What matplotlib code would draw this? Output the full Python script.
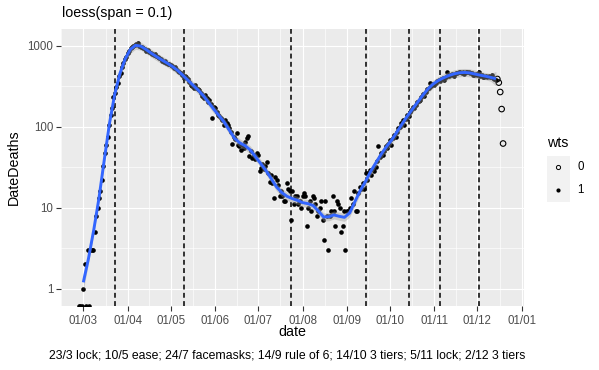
import numpy as np
import pandas as pd
import matplotlib
matplotlib.use("Agg")
import matplotlib.pyplot as plt
import matplotlib.dates as mdates
from matplotlib.ticker import FixedLocator, FuncFormatter, NullFormatter
from matplotlib.patches import Rectangle
from matplotlib.lines import Line2D

plt.rcParams['font.family'] = ['Liberation Sans', 'DejaVu Sans']

# ---------------- data (daily deaths by date of death, 2020) ----------------
feb_start, feb = "2020-02-27", [0, 0, 0]
mar_start, mar = "2020-03-01", [1, 2, 0, 3, 0, 3, 3, 3, 5, 8,
                                10, 13, 16, 22, 33, 47, 59, 75, 105, 140,
                                169, 235, 260, 310, 343, 420, 457, 540, 606, 680,
                                730]
apr_start, apr = "2020-04-01", [806, 850, 930, 950, 980, 1010, 1040, 1070, 1000, 970,
                                960, 930, 900, 870, 880, 830, 806, 790, 760, 780,
                                740, 720, 697, 680, 650, 630, 640, 620, 600, 590]
may_start, may = "2020-05-01", [577, 560, 530, 540, 520, 490, 470, 457, 430, 400,
                                420, 410, 390, 360, 328, 320, 300, 330, 300, 290,
                                280, 260, 240, 225, 245, 225, 203, 215, 190, 127,
                                175]
jun_start, jun = "2020-06-01", [169, 150, 140, 135, 128, 121, 105, 121, 110, 104,
                                95, 87, 62, 75, 70, 83, 59, 57, 52, 59,
                                55, 65, 72, 77, 43, 50, 41, 45, 40, 47]
jul_start, jul = "2020-07-01", [45, 28, 31, 35, 30, 33, 37, 27, 21, 25,
                                20, 13, 24, 22, 19, 14, 16, 14, 12, 12,
                                20, 17, 16, 7, 16, 11, 14, 14, 11, 12,
                                10]
aug_start, aug = "2020-08-01", [14, 15, 14, 6, 10, 12, 9, 14, 13, 11,
                                8, 9, 10, 12, 7, 4, 12, 8, 3, 8,
                                9, 14, 9, 6, 12, 11, 10, 5, 6, 9,
                                3]
sep_start, sep = "2020-09-01", [9, 9, 10, 13, 11, 16, 9, 9, 15, 18,
                                17, 20, 17, 27, 22, 27, 29, 25, 30, 28,
                                32, 38, 57, 42, 48, 45, 50, 58, 55, 62]
oct_start, octo = "2020-10-01", [68, 60, 72, 80, 75, 85, 95, 100, 110, 121,
                                 105, 125, 140, 135, 150, 160, 177, 170, 185, 200,
                                 210, 214, 230, 250, 240, 270, 290, 300, 343, 320,
                                 340]
nov_start, nov = "2020-11-01", [330, 350, 370, 380, 365, 390, 400, 380, 410, 478,
                                420, 430, 445, 440, 420, 455, 460, 470, 478, 465,
                                470, 450, 475, 480, 470, 460, 455, 440, 430, 450]
dec_start, dec = "2020-12-01", [435, 478, 420, 430, 410, 405, 420, 410, 425, 415,
                                430, 400, 390, 377]
# provisional (weight 0) values
prov_start, prov = "2020-12-15", [388, 350, 268, 165, 62]

events = ["2020-03-23", "2020-05-10", "2020-07-24", "2020-09-14",
          "2020-10-14", "2020-11-05", "2020-12-02"]
caption = ("23/3 lock; 10/5 ease; 24/7 facemasks; 14/9 rule of 6; "
           "14/10 3 tiers; 5/11 lock; 2/12 3 tiers")
title = "loess(span = 0.1)"

# ---------------- assemble ----------------
blocks = [(feb_start, feb), (mar_start, mar), (apr_start, apr), (may_start, may),
          (jun_start, jun), (jul_start, jul), (aug_start, aug), (sep_start, sep),
          (oct_start, octo), (nov_start, nov), (dec_start, dec)]
dates, vals = [], []
for s, v in blocks:
    dates += list(pd.date_range(s, periods=len(v)))
    vals += v
dates1 = mdates.date2num(pd.DatetimeIndex(dates).to_pydatetime())
vals1 = np.array(vals, dtype=float)
dates0 = mdates.date2num(pd.date_range(prov_start, periods=len(prov)).to_pydatetime())
vals0 = np.array(prov, dtype=float)

# ---------------- loess (degree 2, tricube) on log10 scale ----------------
pos = vals1 > 0
xf = dates1[pos]
yf = np.log10(vals1[pos])
wf = np.ones_like(xf)


def loess_matrix(x, w, xe, span=0.1, degree=2):
    n = len(x)
    q = int(np.floor(n * span))
    rows = []
    for x0 in xe:
        d = np.abs(x - x0)
        h = max(np.partition(d, q - 1)[q - 1], 1e-9)
        u = d / h
        k = np.where(u < 1, (1 - u ** 3) ** 3, 0.0) * w
        X = np.vander(x - x0, degree + 1, increasing=True)
        XtW = X.T * k
        rows.append(np.linalg.solve(XtW @ X, XtW)[0])
    return np.array(rows)


Ld = loess_matrix(xf, wf, xf)
res = yf - Ld @ yf
sigma2 = np.sum(wf * res ** 2) / (len(xf) - np.trace(Ld))
xe = np.linspace(xf.min(), xf.max(), 80)
Le = loess_matrix(xf, wf, xe)
fit = Le @ yf
se = np.sqrt(sigma2 * np.sum(Le ** 2, axis=1))
tq = 1.97

# ---------------- figure ----------------
W, H = 599, 370
fig = plt.figure(figsize=(W / 100, H / 100), dpi=100)
px = lambda x, y: (x / W, 1 - y / H)
L, R, T, B = 61, 524, 29, 305.7
ax = fig.add_axes([L / W, 1 - B / H, (R - L) / W, (B - T) / H])
ax.set_facecolor('#EBEBEB')
for s in ax.spines.values():
    s.set_visible(False)

ax.set_yscale('log')
ymin, ymax = 10 ** (-0.2099), 10 ** 3.206
ax.set_ylim(ymin, ymax)
mar1 = mdates.date2num(pd.Timestamp("2020-03-01").to_pydatetime())
ax.set_xlim(mar1 - 15.57, mar1 + 307.6)

# grid / ticks
majx = mdates.date2num(pd.date_range("2020-03-01", "2021-01-01", freq="MS").to_pydatetime())
ext = np.concatenate([[majx[0] - (majx[1] - majx[0])], majx, [majx[-1] + (majx[-1] - majx[-2])]])
minx = (ext[:-1] + ext[1:]) / 2
ax.xaxis.set_major_locator(FixedLocator(majx))
ax.xaxis.set_minor_locator(FixedLocator(minx))
ax.xaxis.set_major_formatter(mdates.DateFormatter('%d/%m'))
ax.yaxis.set_major_locator(FixedLocator([1, 10, 100, 1000]))
ax.yaxis.set_minor_locator(FixedLocator([10 ** -0.5, 10 ** 0.5, 10 ** 1.5, 10 ** 2.5, 10 ** 3.5]))
ax.yaxis.set_major_formatter(FuncFormatter(lambda v, p: f"{v:g}"))
ax.yaxis.set_minor_formatter(NullFormatter())
ax.set_axisbelow(True)
ax.grid(which='major', color='white', lw=0.85)
ax.grid(which='minor', color='white', lw=0.45)
ax.tick_params(which='major', length=3.3, width=0.8, color='#333333',
               labelcolor='#4D4D4D', labelsize=8.3, pad=2.2)
ax.tick_params(axis='x', which='major', pad=3.2)
ax.tick_params(which='minor', length=0)

# event lines
for e in events:
    ax.axvline(mdates.date2num(pd.Timestamp(e).to_pydatetime()), color='black',
               lw=1.1, linestyle=(0, (3.2, 2.2)), zorder=1.5)

# points
yplot = np.where(vals1 > 0, vals1, ymin)
ax.scatter(dates1, yplot, s=11, color='black', lw=0, zorder=2)
ax.scatter(dates0, vals0, s=16, facecolors='none', edgecolors='black', lw=0.8, zorder=2)

# smooth
ax.fill_between(xe, 10 ** (fit - tq * se), 10 ** (fit + tq * se), color='#999999',
                alpha=0.4, lw=0, zorder=2.5)
ax.plot(xe, 10 ** fit, color='#3366FF', lw=2.1, zorder=3, solid_capstyle='butt')

# texts
fig.text(*px(62, 13.5), title, fontsize=10.3, ha='left', va='center')
fig.text(*px(292.5, 332), 'date', fontsize=10.3, ha='center', va='center')
fig.text(*px(14, 167.4), 'DateDeaths', fontsize=10.3, ha='center', va='center', rotation=90)
fig.text(*px(525, 355), caption, fontsize=8.8, ha='right', va='center')

# legend
fig.text(*px(547, 143), 'wts', fontsize=10.3, ha='left', va='center')
for i, (lab, filled) in enumerate([('0', False), ('1', True)]):
    y0 = 156 + i * 22.85
    fig.patches.append(Rectangle(px(546.7, y0 + 22.85), 23.3 / W, 22.85 / H,
                                 transform=fig.transFigure, facecolor='#F2F2F2',
                                 edgecolor='none'))
    cx, cy = px(558.3, y0 + 11.4)
    fig.lines.append(Line2D([cx], [cy], transform=fig.transFigure, marker='o',
                            markersize=3.0, markerfacecolor='black' if filled else 'none',
                            markeredgecolor='black', markeredgewidth=0.7 if not filled else 0,
                            linestyle='none'))
    fig.text(*px(577, y0 + 11.4), lab, fontsize=8.3, ha='left', va='center')

fig.savefig('out.png', dpi=100)
